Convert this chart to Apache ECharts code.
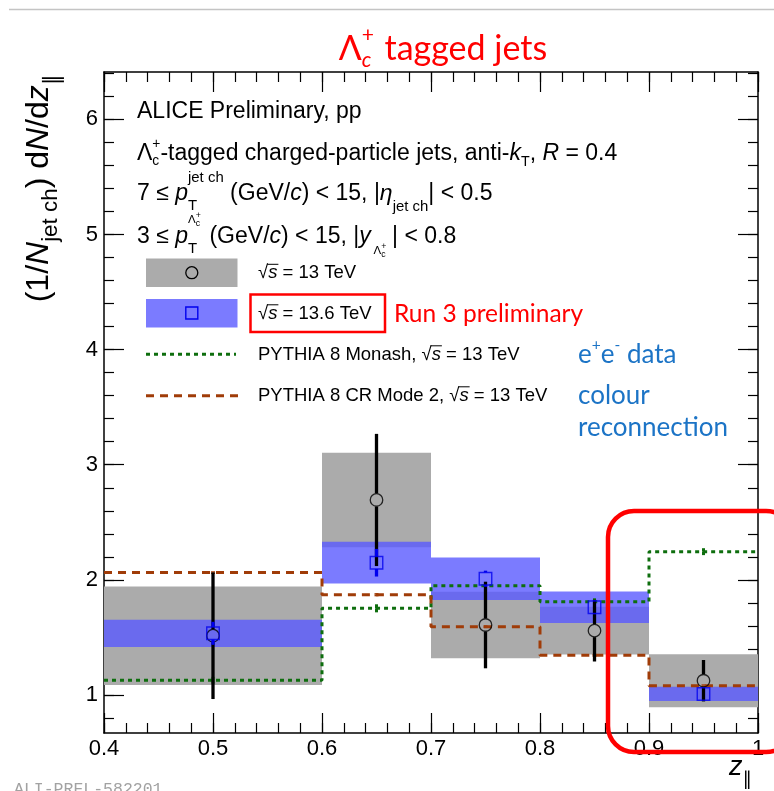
<!DOCTYPE html>
<html>
<head>
<meta charset="utf-8">
<script src="https://cdn.jsdelivr.net/npm/echarts@6/dist/echarts.min.js"></script>
<style>
html,body{margin:0;padding:0;background:#fff}
#chart{width:774px;height:791px}
</style>
</head>
<body>
<div id="chart"></div>
<script>
// z_parallel bins
const binLo = [0.4, 0.6, 0.7, 0.8, 0.9];
const binHi = [0.6, 0.7, 0.8, 0.9, 1.0];
const binCenter = [0.5, 0.65, 0.75, 0.85, 0.95];

// pp, sqrt(s) = 13 TeV
const val13  = [1.515, 2.694, 1.608, 1.559, 1.124];
const stat13 = [0.550, 0.574, 0.376, 0.268, 0.180];
const syst13 = [0.428, 0.410, 0.289, 0.207, 0.230];

// pp, sqrt(s) = 13.6 TeV (Run 3)
const val136  = [1.536, 2.149, 2.010, 1.762, 1.009];
const stat136 = [0.100, 0.120, 0.070, 0.060, 0.050];
const syst136 = [0.118, 0.181, 0.184, 0.137, 0.062];

// PYTHIA 8 predictions
const monash     = [1.128, 1.753, 1.950, 1.810, 2.245];
const monashErr  = [0.030, 0.035, 0.030, 0.030, 0.030];
const crMode2    = [2.063, 1.871, 1.593, 1.345, 1.081];
const crMode2Err = [0.012, 0.014, 0.012, 0.012, 0.012];

// axis ranges and ticks
const xRange = [0.4, 1.0];
const yRange = [0.670, 6.411];
const xMajorTicks = [0.4, 0.5, 0.6, 0.7, 0.8, 0.9, 1.0];
const yMajorTicks = [1, 2, 3, 4, 5, 6];
const xMinorTicks = [];
for (let i = 0; i <= 30; i++) xMinorTicks.push(+(0.4 + i * 0.02).toFixed(2));
const yMinorTicks = [];
for (let i = 4; i <= 32; i++) yMinorTicks.push(+(i * 0.2).toFixed(1));

const SANS = '"Liberation Sans", Arial, Helvetica, sans-serif';
const CAL = 'Lato, "Open Sans", sans-serif';
const GRAY = '#ababab';
const BLUE_BOX = 'rgba(90,90,255,0.8)';
const BLUE = '#0000ee';
const GREEN = '#0e6e0e';
const BROWN = '#a03c08';

// ---- small text layout helper (sub/superscripts, stacked indices) ----
const mctx = document.createElement('canvas').getContext('2d');
function fontStr(size, it, fam) { return (it ? 'italic ' : '') + size.toFixed(2) + 'px ' + fam; }
function layout(parts, size, fam, color) {
  let maxEnd = 0, baseStart = 0, prevEnd = 0;
  const items = [];
  parts.forEach(p => {
    const s = size * (p.k || 1);
    const f = fontStr(s, p.it, p.fam || fam);
    mctx.font = f;
    const w = mctx.measureText(p.t).width;
    let x0 = p.stack ? baseStart : (p.cont ? prevEnd : maxEnd);
    x0 += (p.dx || 0) * size;
    if (!p.stack && !p.cont) baseStart = x0;
    items.push({ text: p.t, x: x0, dy: (p.dy || 0) * size, font: f, fill: p.c || color, over: p.over, w: w, s: s });
    prevEnd = x0 + w;
    maxEnd = Math.max(maxEnd, prevEnd);
  });
  return { items: items, width: maxEnd };
}
function textGroup(x, y, parts, size, fam, color, opt) {
  opt = opt || {};
  const L = layout(parts, size, fam, color);
  let ox = 0;
  if (opt.align === 'center') ox = -L.width / 2;
  else if (opt.align === 'right') ox = -L.width;
  const children = [];
  L.items.forEach(it => {
    children.push({
      type: 'text', x: it.x + ox, y: it.dy,
      style: { text: it.text, font: it.font, fill: it.fill,
               textAlign: 'left', textVerticalAlign: 'middle', align: 'left', verticalAlign: 'middle' }
    });
    if (it.over) {
      children.push({
        type: 'line',
        shape: { x1: it.x + ox - 1, y1: it.dy - 0.47 * it.s, x2: it.x + ox + it.w + 1, y2: it.dy - 0.47 * it.s },
        style: { stroke: it.fill, lineWidth: 1 }
      });
    }
  });
  return { type: 'group', x: x, y: y, rotation: opt.rot || 0, silent: true, z: 100, children: children };
}

// ---- series renderers ----
function boxRenderer(color) {
  return function (params, api) {
    const p0 = api.coord([api.value(0), api.value(3)]);
    const p1 = api.coord([api.value(1), api.value(2)]);
    return { type: 'rect', shape: { x: p0[0], y: p0[1], width: p1[0] - p0[0], height: p1[1] - p0[1] },
             style: { fill: color } };
  };
}
function errRenderer(color, width, gap) {
  return function (params, api) {
    const x = api.value(0), v = api.value(1), e = api.value(2);
    const pc = api.coord([x, v]);
    const pt = api.coord([x, v + e]);
    const pb = api.coord([x, v - e]);
    const ch = [];
    if (pc[1] - gap > pt[1]) ch.push({ type: 'line', shape: { x1: pc[0], y1: pt[1], x2: pc[0], y2: pc[1] - gap }, style: { stroke: color, lineWidth: width } });
    if (pb[1] > pc[1] + gap) ch.push({ type: 'line', shape: { x1: pc[0], y1: pc[1] + gap, x2: pc[0], y2: pb[1] }, style: { stroke: color, lineWidth: width } });
    return { type: 'group', children: ch };
  };
}
function stepData(vals) {
  const d = binLo.map((lo, i) => [lo, vals[i]]);
  d.push([binHi[binHi.length - 1], vals[vals.length - 1]]);
  return d;
}

// ---- axes ----
function xAx(pos, ticks, len, line, labels) {
  return {
    type: 'value', min: xRange[0], max: xRange[1], position: pos,
    axisLine: { show: line, onZero: false, lineStyle: { color: '#000', width: 1.5 } },
    axisTick: { show: true, inside: true, length: len, customValues: ticks, lineStyle: { color: '#000', width: 1.2 } },
    axisLabel: labels ? {
      show: true, customValues: xMajorTicks, margin: 5, color: '#000', fontSize: 22, fontFamily: SANS,
      formatter: v => (Math.abs(v - 1) < 1e-9 ? '1' : v.toFixed(1))
    } : { show: false },
    splitLine: { show: false }
  };
}
function yAx(pos, ticks, len, line, labels) {
  return {
    type: 'value', min: yRange[0], max: yRange[1], position: pos,
    axisLine: { show: line, onZero: false, lineStyle: { color: '#000', width: 1.5 } },
    axisTick: { show: true, inside: true, length: len, customValues: ticks, lineStyle: { color: '#000', width: 1.2 } },
    axisLabel: labels ? {
      show: true, customValues: yMajorTicks, margin: 6, color: '#000', fontSize: 22, fontFamily: SANS,
      formatter: v => String(Math.round(v))
    } : { show: false },
    splitLine: { show: false }
  };
}

// ---- annotation texts ----
const graphics = [];
// thin rule at the top of the page
graphics.push({ type: 'line', silent: true, z: 100, shape: { x1: 9, y1: 9.5, x2: 774, y2: 9.5 }, style: { stroke: '#c4c4c4', lineWidth: 1.5 } });

// title
graphics.push(textGroup(443, 49, [
  { t: 'Λ' }, { t: 'c', k: 0.62, it: true, dy: 0.33 }, { t: '+', k: 0.62, dy: -0.42, stack: true },
  { t: ' tagged jets', dx: 0.05 }
], 34, CAL, '#ff0000', { align: 'center' }));

// header block
const HS = 23;
graphics.push(textGroup(137, 112, [{ t: 'ALICE Preliminary, pp' }], HS, SANS, '#000'));
graphics.push(textGroup(137, 154, [
  { t: 'Λ' }, { t: 'c', k: 0.6, dy: 0.3 }, { t: '+', k: 0.6, dy: -0.42, stack: true },
  { t: '-tagged charged-particle jets, anti-' }, { t: 'k', it: true }, { t: 'T', k: 0.62, dy: 0.33 },
  { t: ', ' }, { t: 'R', it: true }, { t: ' = 0.4' }
], HS, SANS, '#000'));
graphics.push(textGroup(137, 194, [
  { t: '7 ≤ ' }, { t: 'p', it: true }, { t: 'T', k: 0.65, dy: 0.5 }, { t: 'jet ch', k: 0.65, dy: -0.7, stack: true },
  { t: ' (GeV/' }, { t: 'c', it: true }, { t: ') < 15, |' }, { t: 'η', it: true },
  { t: 'jet ch', k: 0.65, dy: 0.58 }, { t: '| < 0.5' }
], HS, SANS, '#000'));
graphics.push(textGroup(137, 237, [
  { t: '3 ≤ ' }, { t: 'p', it: true }, { t: 'T', k: 0.65, dy: 0.5 },
  { t: 'Λ', k: 0.5, dy: -0.76, stack: true }, { t: 'c', k: 0.38, dy: -0.6, cont: true }, { t: '+', k: 0.38, dy: -0.93, cont: true, dx: -0.19 },
  { t: ' (GeV/', dx: 0.1 }, { t: 'c', it: true }, { t: ') < 15, |' }, { t: 'y', it: true },
  { t: 'Λ', k: 0.5, dy: 0.6, dx: 0.12 }, { t: 'c', k: 0.38, dy: 0.76, cont: true }, { t: '+', k: 0.38, dy: 0.4, cont: true, dx: -0.19 },
  { t: '| < 0.8', dx: 0.25 }
], HS, SANS, '#000'));

// legend
graphics.push({ type: 'rect', silent: true, z: 100, shape: { x: 146, y: 258.5, width: 91.5, height: 28.5 }, style: { fill: GRAY } });
graphics.push({ type: 'circle', silent: true, z: 101, shape: { cx: 191.8, cy: 272.7, r: 6 }, style: { fill: 'none', stroke: '#000', lineWidth: 1.3 } });
graphics.push({ type: 'rect', silent: true, z: 100, shape: { x: 146, y: 299, width: 91.5, height: 28.5 }, style: { fill: BLUE_BOX } });
graphics.push({ type: 'rect', silent: true, z: 101, shape: { x: 185.8, y: 307, width: 12, height: 12 }, style: { fill: 'none', stroke: BLUE, lineWidth: 1.4 } });
graphics.push({ type: 'line', silent: true, z: 100, shape: { x1: 146, y1: 354.3, x2: 236, y2: 354.3 }, style: { stroke: GREEN, lineWidth: 3, lineDash: [4, 4] } });
graphics.push({ type: 'line', silent: true, z: 100, shape: { x1: 146, y1: 395.7, x2: 238, y2: 395.7 }, style: { stroke: BROWN, lineWidth: 3, lineDash: [8, 6] } });

const sqrtS = [{ t: '√' }, { t: 's', it: true, over: true }];
graphics.push(textGroup(258, 273, sqrtS.concat([{ t: ' = 13 TeV' }]), 18.5, SANS, '#000'));
graphics.push(textGroup(258, 313.5, sqrtS.concat([{ t: ' = 13.6 TeV' }]), 18.5, SANS, '#000'));
graphics.push(textGroup(258, 354.5, [{ t: 'PYTHIA 8 Monash, ' }].concat(sqrtS, [{ t: ' = 13 TeV' }]), 18.5, SANS, '#000'));
graphics.push(textGroup(258, 395.5, [{ t: 'PYTHIA 8 CR Mode 2, ' }].concat(sqrtS, [{ t: ' = 13 TeV' }]), 18.5, SANS, '#000'));
graphics.push({ type: 'rect', silent: true, z: 100, shape: { x: 250.5, y: 294.5, width: 134.5, height: 37.5 }, style: { fill: 'none', stroke: '#ff0000', lineWidth: 2.5 } });
graphics.push(textGroup(394, 314.5, [{ t: 'Run 3 preliminary' }], 24.5, CAL, '#ff0000'));
graphics.push(textGroup(578, 354.5, [{ t: 'e' }, { t: '+', k: 0.6, dy: -0.35 }, { t: 'e' }, { t: '-', k: 0.6, dy: -0.35 }, { t: ' data' }], 26, CAL, '#1c74c6'));
graphics.push(textGroup(578, 395.5, [{ t: 'colour' }], 26, CAL, '#1c74c6'));
graphics.push(textGroup(578, 428, [{ t: 'reconnection' }], 26, CAL, '#1c74c6'));

// axis titles
graphics.push(textGroup(752, 767, [{ t: 'z', it: true }, { t: '∥', k: 0.7, dy: 0.5, fam: '"DejaVu Sans", sans-serif' }], 27, SANS, '#000', { align: 'right' }));
graphics.push(textGroup(39, 74, [
  { t: '(1/' }, { t: 'N', it: true }, { t: 'jet ch', k: 0.7, dy: 0.38 }, { t: ') d' }, { t: 'N', it: true },
  { t: '/d' }, { t: 'z', it: true }, { t: '∥', k: 0.7, dy: 0.45, fam: '"DejaVu Sans", sans-serif' }
], 32, SANS, '#000', { align: 'right', rot: Math.PI / 2 }));

// highlighted region and figure id
graphics.push({ type: 'rect', silent: true, z: 110, shape: { x: 608, y: 511, width: 184, height: 241, r: 26 }, style: { fill: 'none', stroke: '#ff0000', lineWidth: 4.5 } });
graphics.push({ type: 'text', silent: true, z: 100, x: 14, y: 781, style: { text: 'ALI-PREL-582201', font: '16.5px "Liberation Mono", monospace', fill: '#a2a2a2', textVerticalAlign: 'top', verticalAlign: 'top' } });

const chart = echarts.init(document.getElementById('chart'), null, { renderer: 'canvas' });
chart.setOption({
  animation: false,
  backgroundColor: '#fff',
  grid: { left: 104, right: 16, top: 72, bottom: 58, containLabel: false },
  xAxis: [
    xAx('bottom', xMajorTicks, 20, true, true),
    xAx('bottom', xMinorTicks, 10, false, false),
    xAx('top', xMajorTicks, 20, true, false),
    xAx('top', xMinorTicks, 10, false, false)
  ],
  yAxis: [
    yAx('left', yMajorTicks, 20, true, true),
    yAx('left', yMinorTicks, 10, false, false),
    yAx('right', yMajorTicks, 20, true, false),
    yAx('right', yMinorTicks, 10, false, false)
  ],
  series: [
    { type: 'custom', name: 'syst 13 TeV', z: 1, silent: true,
      data: binLo.map((lo, i) => [lo, binHi[i], val13[i] - syst13[i], val13[i] + syst13[i]]),
      encode: { x: [0, 1], y: [2, 3] }, renderItem: boxRenderer(GRAY) },
    { type: 'custom', name: 'syst 13.6 TeV', z: 2, silent: true,
      data: binLo.map((lo, i) => [lo, binHi[i], val136[i] - syst136[i], val136[i] + syst136[i]]),
      encode: { x: [0, 1], y: [2, 3] }, renderItem: boxRenderer(BLUE_BOX) },
    { type: 'line', name: 'PYTHIA 8 Monash', z: 3, step: 'end', symbol: 'none', silent: true,
      data: stepData(monash), lineStyle: { color: GREEN, width: 3, type: [4, 4] } },
    { type: 'line', name: 'PYTHIA 8 CR Mode 2', z: 3, step: 'end', symbol: 'none', silent: true,
      data: stepData(crMode2), lineStyle: { color: BROWN, width: 3, type: [8, 6] } },
    { type: 'custom', z: 3, silent: true, data: binCenter.map((x, i) => [x, monash[i], monashErr[i]]),
      encode: { x: 0, y: 1 }, renderItem: errRenderer(GREEN, 3, 0) },
    { type: 'custom', z: 3, silent: true, data: binCenter.map((x, i) => [x, crMode2[i], crMode2Err[i]]),
      encode: { x: 0, y: 1 }, renderItem: errRenderer(BROWN, 4, 0) },
    { type: 'custom', name: 'stat 13 TeV', z: 4, silent: true, data: binCenter.map((x, i) => [x, val13[i], stat13[i]]),
      encode: { x: 0, y: 1 }, renderItem: errRenderer('#000', 3.3, 6.5) },
    { type: 'scatter', name: '13 TeV', z: 5, silent: true, data: binCenter.map((x, i) => [x, val13[i]]),
      symbol: 'circle', symbolSize: 12.5, itemStyle: { color: 'rgba(0,0,0,0)', borderColor: '#000', borderWidth: 1.3 } },
    { type: 'custom', name: 'stat 13.6 TeV', z: 6, silent: true, data: binCenter.map((x, i) => [x, val136[i], stat136[i]]),
      encode: { x: 0, y: 1 }, renderItem: errRenderer(BLUE, 3.3, 6.3) },
    { type: 'scatter', name: '13.6 TeV', z: 7, silent: true, data: binCenter.map((x, i) => [x, val136[i]]),
      symbol: 'rect', symbolSize: 12.5, itemStyle: { color: 'rgba(0,0,0,0)', borderColor: BLUE, borderWidth: 1.4 } }
  ],
  graphic: { elements: graphics }
});
</script>
</body>
</html>
